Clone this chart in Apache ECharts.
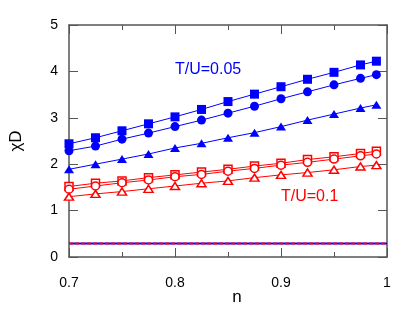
<!DOCTYPE html>
<html>
<head>
<meta charset="utf-8">
<script src="https://cdn.jsdelivr.net/npm/echarts@6/dist/echarts.min.js"></script>
<style>html,body{margin:0;padding:0;background:#fff}#c{width:415px;height:312px}</style>
</head>
<body>
<div id="c"></div>
<script>
const nValues = [0.7, 0.725, 0.75, 0.775, 0.8, 0.825, 0.85, 0.875, 0.9, 0.925, 0.95, 0.975, 0.99];
const blueSquares   = [2.44, 2.57, 2.72, 2.87, 3.02, 3.18, 3.35, 3.51, 3.67, 3.83, 3.98, 4.14, 4.22];
const blueCircles   = [2.29, 2.39, 2.54, 2.67, 2.81, 2.95, 3.10, 3.25, 3.41, 3.56, 3.71, 3.85, 3.93];
const blueTriangles = [1.89, 2.00, 2.11, 2.22, 2.35, 2.45, 2.57, 2.68, 2.81, 2.95, 3.08, 3.21, 3.28];
const redSquares    = [1.52, 1.59, 1.64, 1.71, 1.77, 1.83, 1.89, 1.96, 2.02, 2.10, 2.16, 2.23, 2.28];
const redCircles    = [1.46, 1.53, 1.60, 1.66, 1.73, 1.78, 1.85, 1.91, 1.98, 2.04, 2.11, 2.18, 2.22];
const redTriangles  = [1.30, 1.36, 1.41, 1.47, 1.53, 1.59, 1.64, 1.71, 1.77, 1.82, 1.88, 1.95, 1.98];
const baselineX = [0.7, 1.0];
const baselineY = [0.29, 0.29];
const labelBlue = 'T/U=0.05';
const labelRed = 'T/U=0.1';

const BLUE = '#0000ff', RED = '#ff0000', AX = '#555';
const pairs = (xs, ys) => xs.map((x, i) => [x, ys[i]]);

function markerSeries(ys, color, symbol, size, filled) {
  return {
    type: 'line', data: pairs(nValues, ys), symbol: symbol, symbolSize: size,
    showAllSymbol: true,
    lineStyle: { color: color, width: 1 },
    itemStyle: filled ? { color: color } : { color: '#fff', borderColor: color, borderWidth: 1.5 },
    emphasis: { disabled: true }, animation: false, z: 3
  };
}

const axisBase = {
  type: 'value', splitLine: { show: false },
  axisLine: { show: true, onZero: false, lineStyle: { color: AX, width: 1.5 } },
  axisTick: { show: true, inside: true, length: 9, lineStyle: { color: AX, width: 1 } }
};

const chart = echarts.init(document.getElementById('c'), null, { renderer: 'canvas' });
chart.setOption({
  animation: false,
  textStyle: { fontFamily: 'Liberation Sans, Arial, sans-serif' },
  grid: { left: 69, right: 28, top: 25, bottom: 55 },
  xAxis: [
    Object.assign({}, axisBase, {
      position: 'bottom', min: 0.7, max: 1, interval: 0.1,
      minorTick: { show: true, splitNumber: 2, length: 5, lineStyle: { color: AX, width: 1 } },
      axisLabel: { color: '#000', fontSize: 14, margin: 19,
        formatter: v => String(Math.round(v * 10) / 10) }
    }),
    Object.assign({}, axisBase, {
      position: 'top', min: 0.7, max: 1, interval: 0.1,
      minorTick: { show: true, splitNumber: 2, length: 5, lineStyle: { color: AX, width: 1 } },
      axisLabel: { show: false }
    })
  ],
  yAxis: [
    Object.assign({}, axisBase, {
      position: 'left', min: 0, max: 5, interval: 1,
      axisLabel: { color: '#000', fontSize: 14, margin: 11 },
      name: 'χD', nameLocation: 'middle', nameRotate: 90, nameGap: 44,
      nameTextStyle: { color: '#000', fontSize: 17 }
    }),
    Object.assign({}, axisBase, {
      position: 'right', min: 0, max: 5, interval: 1,
      axisLabel: { show: false }
    })
  ],
  graphic: [
    { type: 'text', left: 175, top: 62, style: { text: labelBlue, fill: BLUE, fontSize: 16, fontFamily: 'Liberation Sans, Arial, sans-serif' } },
    { type: 'text', left: 281, top: 189, style: { text: labelRed, fill: RED, fontSize: 16, fontFamily: 'Liberation Sans, Arial, sans-serif' } },
    { type: 'text', x: 237, y: 297, style: { text: 'n', fill: '#000', fontSize: 17, align: 'center', verticalAlign: 'middle', fontFamily: 'Liberation Sans, Arial, sans-serif' } }
  ],
  series: [
    { type: 'line', data: pairs(baselineX, baselineY), symbol: 'none', lineStyle: { color: BLUE, width: 2 }, z: 2, animation: false },
    { type: 'line', data: pairs(baselineX, baselineY), symbol: 'none', lineStyle: { color: RED, width: 2, type: [4, 2] }, z: 2, animation: false },
    markerSeries(blueSquares, BLUE, 'rect', 9, true),
    markerSeries(blueCircles, BLUE, 'circle', 9, true),
    markerSeries(blueTriangles, BLUE, 'triangle', [10, 8], true),
    markerSeries(redSquares, RED, 'rect', 8, false),
    markerSeries(redCircles, RED, 'circle', 8, false),
    markerSeries(redTriangles, RED, 'triangle', [9, 7], false)
  ]
});
</script>
</body>
</html>
